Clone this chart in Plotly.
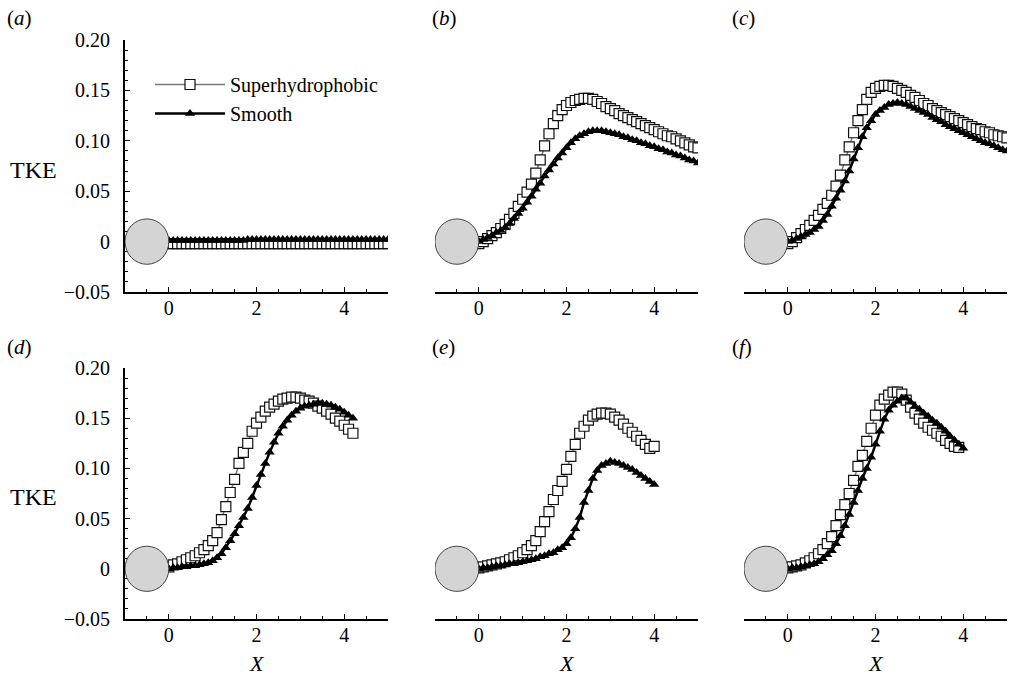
import plotly.graph_objects as go

# Streamwise stations (cylinder centre at X = -0.5, rear face at X = 0)
X_TOP = [0.0, 0.1, 0.2, 0.3, 0.4, 0.5, 0.6, 0.7, 0.8, 0.9,
         1.0, 1.1, 1.2, 1.3, 1.4, 1.5, 1.6, 1.7, 1.8, 1.9,
         2.0, 2.1, 2.2, 2.3, 2.4, 2.5, 2.6, 2.7, 2.8, 2.9,
         3.0, 3.1, 3.2, 3.3, 3.4, 3.5, 3.6, 3.7, 3.8, 3.9,
         4.0, 4.1, 4.2, 4.3, 4.4, 4.5, 4.6, 4.7, 4.8, 4.9,
         5.0]
X_D = [0.0, 0.1, 0.2, 0.3, 0.4, 0.5, 0.6, 0.7, 0.8, 0.9,
       1.0, 1.1, 1.2, 1.3, 1.4, 1.5, 1.6, 1.7, 1.8, 1.9,
       2.0, 2.1, 2.2, 2.3, 2.4, 2.5, 2.6, 2.7, 2.8, 2.9,
       3.0, 3.1, 3.2, 3.3, 3.4, 3.5, 3.6, 3.7, 3.8, 3.9,
       4.0, 4.1, 4.2]
X_EF = [0.0, 0.1, 0.2, 0.3, 0.4, 0.5, 0.6, 0.7, 0.8, 0.9,
        1.0, 1.1, 1.2, 1.3, 1.4, 1.5, 1.6, 1.7, 1.8, 1.9,
        2.0, 2.1, 2.2, 2.3, 2.4, 2.5, 2.6, 2.7, 2.8, 2.9,
        3.0, 3.1, 3.2, 3.3, 3.4, 3.5, 3.6, 3.7, 3.8, 3.9,
        4.0]
X_F_SH = [0.0, 0.1, 0.2, 0.3, 0.4, 0.5, 0.6, 0.7, 0.8, 0.9,
          1.0, 1.1, 1.2, 1.3, 1.4, 1.5, 1.6, 1.7, 1.8, 1.9,
          2.0, 2.1, 2.2, 2.3, 2.4, 2.5, 2.6, 2.7, 2.8, 2.9,
          3.0, 3.1, 3.2, 3.3, 3.4, 3.5, 3.6, 3.7, 3.8, 3.9]

# TKE along the wake centreline
A_SH = [-0.002, -0.002, -0.002, -0.002, -0.002, -0.002, -0.002, -0.002, -0.002, -0.002,
        -0.002, -0.002, -0.002, -0.002, -0.002, -0.002, -0.002, -0.002, -0.002, -0.002,
        -0.002, -0.002, -0.002, -0.002, -0.002, -0.002, -0.002, -0.002, -0.002, -0.002,
        -0.002, -0.002, -0.002, -0.002, -0.002, -0.002, -0.002, -0.002, -0.002, -0.002,
        -0.002, -0.002, -0.002, -0.002, -0.002, -0.002, -0.002, -0.002, -0.002, -0.002,
        -0.002]
A_SM = [0.001, 0.001, 0.001, 0.001, 0.001, 0.001, 0.001, 0.001, 0.001, 0.001,
        0.001, 0.001, 0.001, 0.001, 0.001, 0.001, 0.001, 0.001, 0.002, 0.002,
        0.002, 0.002, 0.002, 0.002, 0.002, 0.002, 0.002, 0.002, 0.002, 0.002,
        0.002, 0.002, 0.002, 0.002, 0.002, 0.002, 0.002, 0.002, 0.002, 0.002,
        0.002, 0.002, 0.002, 0.002, 0.002, 0.002, 0.002, 0.002, 0.002, 0.002,
        0.002]

B_SH = [-0.002, 0.000, 0.003, 0.006, 0.009, 0.013, 0.017, 0.022, 0.028, 0.035,
        0.042, 0.049, 0.057, 0.068, 0.081, 0.095, 0.107, 0.117, 0.125, 0.131,
        0.135, 0.138, 0.140, 0.141, 0.142, 0.142, 0.141, 0.139, 0.137, 0.134,
        0.132, 0.130, 0.127, 0.125, 0.123, 0.121, 0.119, 0.117, 0.115, 0.113,
        0.111, 0.109, 0.107, 0.105, 0.104, 0.102, 0.100, 0.098, 0.096, 0.094,
        0.093]
B_SM = [0.000, 0.002, 0.004, 0.006, 0.009, 0.011, 0.014, 0.018, 0.023, 0.028,
        0.033, 0.039, 0.045, 0.052, 0.058, 0.065, 0.071, 0.077, 0.083, 0.088,
        0.093, 0.098, 0.102, 0.105, 0.107, 0.109, 0.110, 0.110, 0.110, 0.109,
        0.108, 0.107, 0.106, 0.104, 0.103, 0.101, 0.100, 0.098, 0.097, 0.095,
        0.094, 0.092, 0.091, 0.089, 0.088, 0.086, 0.085, 0.083, 0.081, 0.080,
        0.078]

C_SH = [-0.002, 0.000, 0.004, 0.008, 0.012, 0.016, 0.021, 0.026, 0.032, 0.038,
        0.046, 0.055, 0.066, 0.081, 0.094, 0.108, 0.120, 0.131, 0.141, 0.148,
        0.152, 0.154, 0.155, 0.155, 0.154, 0.152, 0.150, 0.148, 0.145, 0.143,
        0.140, 0.137, 0.135, 0.132, 0.130, 0.128, 0.126, 0.124, 0.122, 0.120,
        0.118, 0.116, 0.114, 0.112, 0.111, 0.109, 0.108, 0.106, 0.105, 0.104,
        0.103]
C_SM = [0.000, 0.001, 0.003, 0.005, 0.007, 0.009, 0.012, 0.015, 0.021, 0.027,
        0.035, 0.043, 0.051, 0.060, 0.070, 0.082, 0.093, 0.104, 0.113, 0.120,
        0.126, 0.130, 0.133, 0.136, 0.137, 0.138, 0.137, 0.136, 0.134, 0.132,
        0.130, 0.128, 0.126, 0.123, 0.121, 0.119, 0.116, 0.114, 0.112, 0.110,
        0.108, 0.106, 0.104, 0.102, 0.100, 0.098, 0.097, 0.095, 0.093, 0.091,
        0.090]

D_SH = [0.002, 0.004, 0.005, 0.007, 0.009, 0.011, 0.013, 0.016, 0.019, 0.023,
        0.028, 0.036, 0.049, 0.062, 0.076, 0.089, 0.105, 0.116, 0.125, 0.137,
        0.145, 0.151, 0.157, 0.161, 0.164, 0.167, 0.169, 0.170, 0.171, 0.171,
        0.170, 0.168, 0.167, 0.165, 0.162, 0.160, 0.157, 0.154, 0.150, 0.147,
        0.143, 0.139, 0.135]
D_SM = [0.000, 0.001, 0.001, 0.002, 0.002, 0.003, 0.003, 0.004, 0.005, 0.006,
        0.008, 0.011, 0.015, 0.021, 0.028, 0.035, 0.043, 0.051, 0.060, 0.071,
        0.083, 0.094, 0.105, 0.116, 0.126, 0.135, 0.142, 0.148, 0.153, 0.157,
        0.160, 0.162, 0.163, 0.164, 0.165, 0.165, 0.164, 0.163, 0.161, 0.159,
        0.156, 0.153, 0.150]

E_SH = [0.001, 0.002, 0.003, 0.004, 0.005, 0.006, 0.007, 0.009, 0.011, 0.013,
        0.016, 0.019, 0.023, 0.028, 0.037, 0.047, 0.057, 0.069, 0.078, 0.087,
        0.099, 0.112, 0.124, 0.135, 0.142, 0.148, 0.152, 0.154, 0.155, 0.155,
        0.154, 0.151, 0.148, 0.144, 0.140, 0.136, 0.132, 0.128, 0.124, 0.120,
        0.122]
E_SM = [0.000, 0.001, 0.001, 0.002, 0.003, 0.003, 0.004, 0.005, 0.005, 0.006,
        0.007, 0.008, 0.009, 0.010, 0.012, 0.013, 0.015, 0.016, 0.019, 0.021,
        0.025, 0.031, 0.040, 0.051, 0.066, 0.078, 0.090, 0.098, 0.103, 0.105,
        0.107, 0.106, 0.105, 0.103, 0.101, 0.099, 0.096, 0.093, 0.090, 0.087,
        0.084]

F_SH = [0.001, 0.002, 0.003, 0.004, 0.006, 0.008, 0.011, 0.015, 0.019, 0.025,
        0.032, 0.043, 0.054, 0.064, 0.075, 0.088, 0.102, 0.113, 0.127, 0.140,
        0.153, 0.163, 0.169, 0.173, 0.176, 0.176, 0.174, 0.168, 0.161, 0.155,
        0.149, 0.145, 0.141, 0.138, 0.135, 0.132, 0.128, 0.125, 0.122, 0.121]
F_SM = [0.000, 0.001, 0.001, 0.002, 0.003, 0.004, 0.005, 0.007, 0.010, 0.014,
        0.018, 0.025, 0.033, 0.043, 0.054, 0.066, 0.078, 0.090, 0.100, 0.111,
        0.124, 0.137, 0.149, 0.158, 0.163, 0.167, 0.170, 0.170, 0.166, 0.162,
        0.159, 0.155, 0.152, 0.148, 0.145, 0.141, 0.137, 0.132, 0.128, 0.124,
        0.120]

PANEL_LABELS = ["a", "b", "c", "d", "e", "f"]
PANELS = [
    (X_TOP, A_SH, X_TOP, A_SM),
    (X_TOP, B_SH, X_TOP, B_SM),
    (X_TOP, C_SH, X_TOP, C_SM),
    (X_D, D_SH, X_D, D_SM),
    (X_EF, E_SH, X_EF, E_SM),
    (X_F_SH, F_SH, X_EF, F_SM),
]

Y_TICKS = [-0.05, 0.0, 0.05, 0.10, 0.15, 0.20]
Y_TICK_TEXT = ["\u22120.05", "0", "0.05", "0.10", "0.15", "0.20"]
X_RANGE = [-1, 5]
Y_RANGE = [-0.05, 0.20]

# Cylinder cross-section drawn at the origin of the wake
CYL_CX, CYL_RX, CYL_RY = -0.5, 0.5, 0.0225

W, H = 1009, 677
FONT = "Liberation Serif"

X_DOMAINS = [(125, 388), (435, 698), (744, 1007)]
Y_DOMAINS = [(40, 292), (368, 619)]

fig = go.Figure()

for i, (xs, ys, xm, ym) in enumerate(PANELS):
    sfx = "" if i == 0 else str(i + 1)
    show = i == 0
    fig.add_trace(go.Scatter(
        x=xs, y=ys, mode="lines+markers", name="Superhydrophobic",
        showlegend=show, xaxis="x" + sfx, yaxis="y" + sfx,
        line=dict(color="#7a7a7a", width=1.5),
        marker=dict(symbol="square", size=10, color="white",
                    line=dict(color="#111111", width=1.2)),
    ))
    fig.add_trace(go.Scatter(
        x=xm, y=ym, mode="lines+markers", name="Smooth",
        showlegend=show, xaxis="x" + sfx, yaxis="y" + sfx,
        line=dict(color="black", width=2.5),
        marker=dict(symbol="triangle-up", size=9, color="black",
                    line=dict(width=0)),
    ))

layout = dict(
    template="none",
    width=W, height=H, autosize=False,
    margin=dict(l=0, r=0, t=0, b=0, pad=0, autoexpand=False),
    paper_bgcolor="white", plot_bgcolor="white",
    font=dict(family=FONT, color="black", size=20),
    showlegend=True,
    legend=dict(
        x=150 / W, y=1 - 65 / H, xanchor="left", yanchor="top",
        bgcolor="rgba(0,0,0,0)", borderwidth=0,
        font=dict(family=FONT, size=20),
        itemwidth=70, tracegroupgap=0,
    ),
)

shapes = []
annotations = []
for i in range(6):
    row, col = divmod(i, 3)
    sfx = "" if i == 0 else str(i + 1)
    x0, x1 = X_DOMAINS[col]
    y0, y1 = Y_DOMAINS[row]
    layout["xaxis" + sfx] = dict(
        domain=[x0 / W, x1 / W], anchor="y" + sfx, range=X_RANGE,
        automargin=False,
        showline=True, linecolor="black", linewidth=2,
        ticks="inside", tickcolor="black", ticklen=5, tickwidth=1,
        tickmode="linear", tick0=0, dtick=2,
        minor=dict(ticks="inside", ticklen=3, tickcolor="black",
                   tickmode="linear", tick0=0, dtick=0.5, showgrid=False),
        showgrid=False, zeroline=False,
        tickfont=dict(family=FONT, size=20, color="black"),
        ticklabelstandoff=-3,
    )
    first_col = col == 0
    layout["yaxis" + sfx] = dict(
        domain=[1 - y1 / H, 1 - y0 / H], anchor="x" + sfx, range=Y_RANGE,
        automargin=False,
        visible=first_col,
        showline=first_col, linecolor="black", linewidth=2,
        ticks="inside", tickcolor="black", ticklen=5, tickwidth=1,
        tickmode="array", tickvals=Y_TICKS, ticktext=Y_TICK_TEXT,
        minor=dict(ticks="inside", ticklen=3, tickcolor="black",
                   tickmode="linear", tick0=0, dtick=0.01, showgrid=False),
        showgrid=False, zeroline=False,
        tickfont=dict(family=FONT, size=20, color="black"),
        ticklabelstandoff=9,
    )
    shapes.append(dict(
        type="circle", xref="x" + sfx, yref="y" + sfx,
        x0=CYL_CX - CYL_RX, x1=CYL_CX + CYL_RX, y0=-CYL_RY, y1=CYL_RY,
        fillcolor="#d4d4d4", line=dict(color="#444444", width=1), layer="above",
    ))
    label_x = [5, 430, 730][col]
    label_y = [18, 347][row]
    annotations.append(dict(
        text="(<i>%s</i>)" % PANEL_LABELS[i], xref="paper", yref="paper",
        x=label_x / W, y=1 - label_y / H, xanchor="left", yanchor="middle",
        showarrow=False, font=dict(family=FONT, size=21),
    ))
    if row == 1:
        annotations.append(dict(
            text="<i>X</i>", xref="paper", yref="paper",
            x=(x0 + x1) / 2 / W, y=0, xanchor="center", yanchor="bottom",
            borderpad=0, showarrow=False, font=dict(family=FONT, size=22),
        ))

for ty in (170, 497):
    annotations.append(dict(
        text="TKE", xref="paper", yref="paper",
        x=33 / W, y=1 - ty / H, xanchor="center", yanchor="middle",
        showarrow=False, font=dict(family=FONT, size=24),
    ))

layout["shapes"] = shapes
layout["annotations"] = annotations
fig.update_layout(**layout)

fig.write_html("out.html")
